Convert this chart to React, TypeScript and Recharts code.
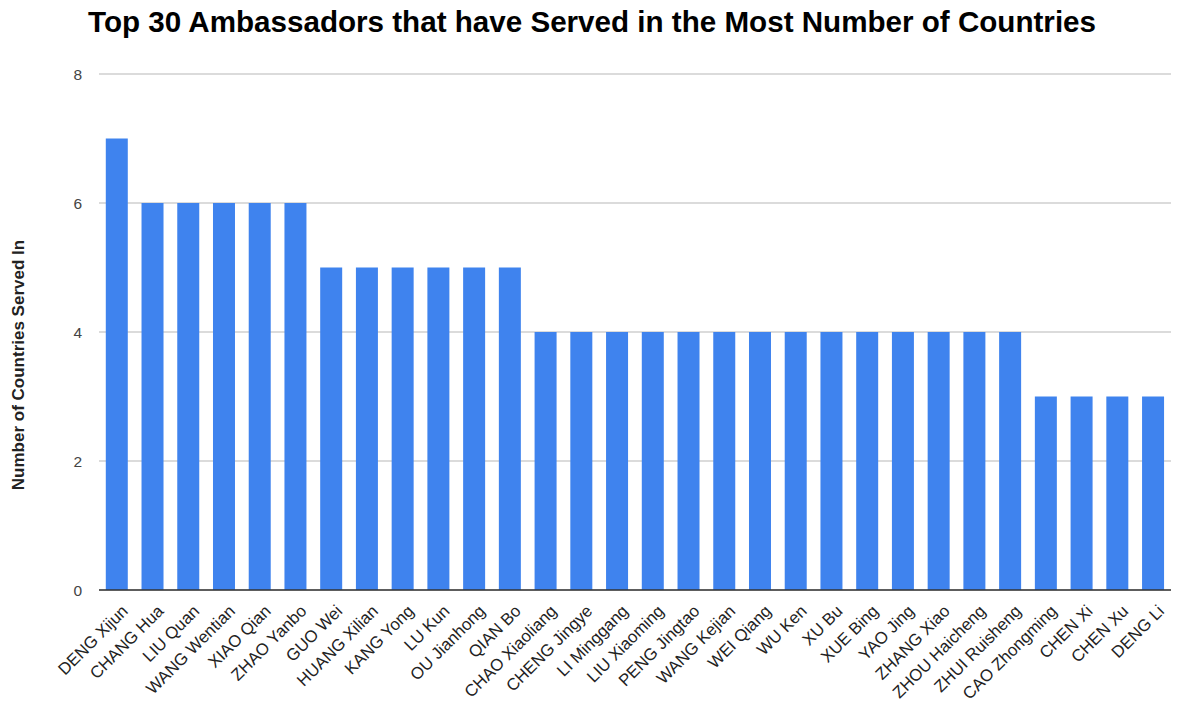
import React from 'react';
import { BarChart, Bar, XAxis, YAxis, CartesianGrid } from 'recharts';

const names = [
  'DENG Xijun', 'CHANG Hua', 'LIU Quan', 'WANG Wentian', 'XIAO Qian', 'ZHAO Yanbo',
  'GUO Wei', 'HUANG Xilian', 'KANG Yong', 'LU Kun', 'OU Jianhong', 'QIAN Bo',
  'CHAO Xiaoliang', 'CHENG Jingye', 'LI Minggang', 'LIU Xiaoming', 'PENG Jingtao',
  'WANG Kejian', 'WEI Qiang', 'WU Ken', 'XU Bu', 'XUE Bing', 'YAO Jing', 'ZHANG Xiao',
  'ZHOU Haicheng', 'ZHUI Ruisheng', 'CAO Zhongming', 'CHEN Xi', 'CHEN Xu', 'DENG Li',
];
const countries = [7, 6, 6, 6, 6, 6, 5, 5, 5, 5, 5, 5, 4, 4, 4, 4, 4, 4, 4, 4, 4, 4, 4, 4, 4, 4, 3, 3, 3, 3];
const yTicks = [0, 2, 4, 6, 8];

const data = names.map((n, i) => ({ name: n, value: countries[i] }));

const FONT = '"Liberation Sans", Arial, sans-serif';

const XTick = (props: any) => {
  const { x, y, payload } = props;
  return (
    <g transform={`translate(${x},${y})`}>
      <text
        x={0}
        y={0}
        dx={-1.5}
        dy={18.5}
        textAnchor="end"
        transform="rotate(-45)"
        fontSize={16.8}
        fill="#222"
        fontFamily={FONT}
      >
        {payload.value}
      </text>
    </g>
  );
};

export default function App() {
  return (
    <div style={{ position: 'absolute', left: 0, top: 0, width: 1178, height: 704, background: '#fff', fontFamily: FONT }}>
      <div
        style={{
          position: 'absolute',
          left: 88,
          top: 5,
          fontSize: 29.6,
          fontWeight: 'bold',
          color: '#000',
          whiteSpace: 'nowrap',
        }}
      >
        Top 30 Ambassadors that have Served in the Most Number of Countries
      </div>
      <div
        style={{
          position: 'absolute',
          left: 19,
          top: 365,
          fontSize: 17,
          fontWeight: 'bold',
          color: '#222',
          whiteSpace: 'nowrap',
          transform: 'translate(-50%, -50%) rotate(-90deg)',
        }}
      >
        Number of Countries Served In
      </div>
      <BarChart
        width={1178}
        height={704}
        data={data}
        margin={{ top: 74, right: 7, bottom: 4, left: 24 }}
        barCategoryGap="19%"
      >
        <CartesianGrid vertical={false} stroke="#cfcfcf" strokeWidth={1.5} />
        <XAxis
          dataKey="name"
          interval={0}
          height={110}
          tick={<XTick />}
          tickLine={false}
          axisLine={{ stroke: '#333', strokeWidth: 1.5 }}
        />
        <YAxis
          width={75}
          domain={[0, 8]}
          ticks={yTicks}
          tickLine={false}
          axisLine={false}
          tick={{ fontSize: 15.5, fill: '#444', fontFamily: FONT }}
          tickMargin={11}
        />
        <Bar dataKey="value" fill="#3f83ee" isAnimationActive={false} />
      </BarChart>
    </div>
  );
}
